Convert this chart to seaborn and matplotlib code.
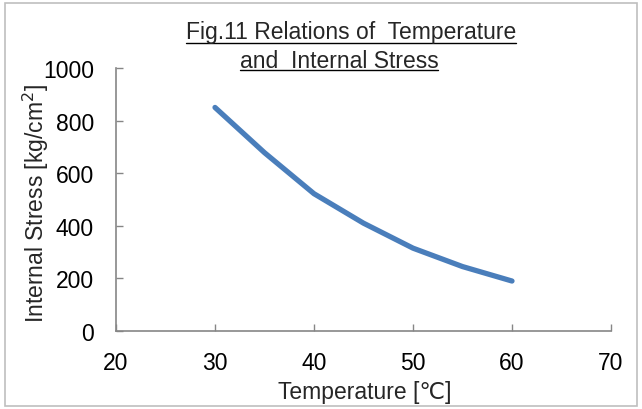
import matplotlib
matplotlib.use("Agg")
import matplotlib.pyplot as plt
import pandas as pd
import seaborn as sns
from matplotlib.patches import Rectangle

# values
temperature = [30, 35, 40, 45, 50, 55, 60]
stress = [850, 678, 522, 410, 315, 245, 190]
x_ticks = [20, 30, 40, 50, 60, 70]
y_ticks = [0, 200, 400, 600, 800, 1000]
title_lines = ["Fig.11 Relations of  Temperature", "and  Internal Stress"]

df = pd.DataFrame({"temperature": temperature, "stress": stress})

sns.set_theme(style="white")
plt.rcParams["font.family"] = ["Liberation Sans", "DejaVu Sans"]

W, H = 642, 410
fig = plt.figure(figsize=(W / 100, H / 100), dpi=100)
ax = fig.add_axes([116 / W, 78 / H, 495 / W, 263 / H])

sns.lineplot(data=df, x="temperature", y="stress", ax=ax,
             color="#4a7ebb", linewidth=3.8, solid_capstyle="round",
             solid_joinstyle="round")

ax.set_xlim(20, 70)
ax.set_ylim(0, 1000)
ax.set_xticks(x_ticks)
ax.set_yticks(y_ticks)
ax.tick_params(direction="in", length=5, width=1, color="#868686",
               labelsize=16.5, labelcolor="black",
               bottom=True, left=True)
ax.tick_params(axis="y", pad=16)
ax.tick_params(axis="x", pad=14.5)
for side in ["top", "right"]:
    ax.spines[side].set_visible(False)
for side in ["left", "bottom"]:
    ax.spines[side].set_color("#868686")
    ax.spines[side].set_linewidth(1.2)

ax.set_xlabel("Temperature [\u2103]", fontsize=16.5, va="center")
ax.set_ylabel("Internal Stress [kg/cm$^2$]", fontsize=16.5, va="center")
ax.xaxis.set_label_coords((365 - 116) / 495, (332 - 393) / 263)
ax.yaxis.set_label_coords((36 - 116) / 495, (332 - 203) / 263)

# two-line underlined title
t1 = fig.text(351 / W, 1 - 33 / H, title_lines[0], ha="center",
              va="center", fontsize=16.5)
t2 = fig.text(339 / W, 1 - 61 / H, title_lines[1], ha="center",
              va="center", fontsize=16.5)
fig.canvas.draw()
renderer = fig.canvas.get_renderer()
for t, y_px in [(t1, 44), (t2, 71)]:
    bb = t.get_window_extent(renderer)
    fig.add_artist(plt.Line2D([bb.x0 / W, bb.x1 / W], [1 - y_px / H] * 2,
                              color="black", linewidth=1.0))

fig.add_artist(Rectangle((5 / W, 3 / H), 632 / W, 403 / H,
                         transform=fig.transFigure, fill=False,
                         edgecolor="#bfbfbf", linewidth=1.2))

fig.savefig("out.png", dpi=100)
